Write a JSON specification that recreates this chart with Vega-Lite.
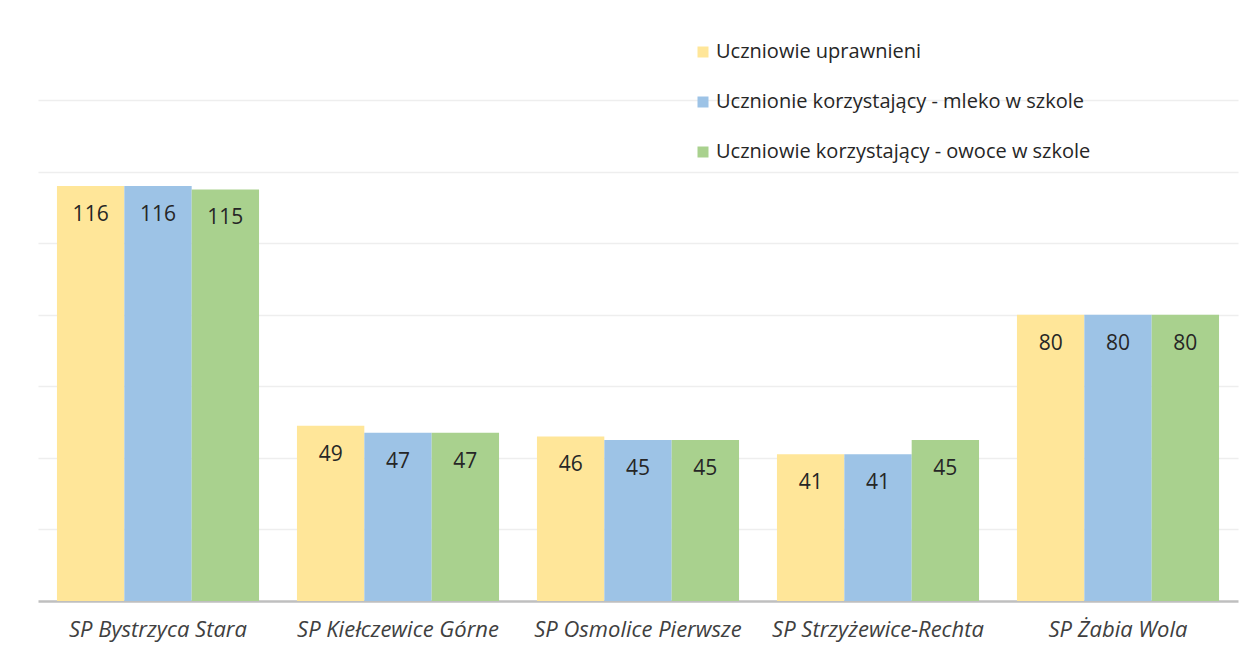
{
  "$schema": "https://vega.github.io/schema/vega-lite/v6.json",
  "autosize": {"type": "none"},
  "width": 1200,
  "height": 501,
  "padding": {"left": 38, "top": 100, "right": 20, "bottom": 53},
  "background": "white",
  "config": {
    "view": {"stroke": null},
    "font": "Open Sans"
  },
  "data": {
    "values": [
      {"szkola": "SP Bystrzyca Stara", "seria": "Uczniowie uprawnieni", "wartosc": 116},
      {"szkola": "SP Bystrzyca Stara", "seria": "Ucznionie korzystający - mleko w szkole", "wartosc": 116},
      {"szkola": "SP Bystrzyca Stara", "seria": "Uczniowie korzystający - owoce w szkole", "wartosc": 115},
      {"szkola": "SP Kiełczewice Górne", "seria": "Uczniowie uprawnieni", "wartosc": 49},
      {"szkola": "SP Kiełczewice Górne", "seria": "Ucznionie korzystający - mleko w szkole", "wartosc": 47},
      {"szkola": "SP Kiełczewice Górne", "seria": "Uczniowie korzystający - owoce w szkole", "wartosc": 47},
      {"szkola": "SP Osmolice Pierwsze", "seria": "Uczniowie uprawnieni", "wartosc": 46},
      {"szkola": "SP Osmolice Pierwsze", "seria": "Ucznionie korzystający - mleko w szkole", "wartosc": 45},
      {"szkola": "SP Osmolice Pierwsze", "seria": "Uczniowie korzystający - owoce w szkole", "wartosc": 45},
      {"szkola": "SP Strzyżewice-Rechta", "seria": "Uczniowie uprawnieni", "wartosc": 41},
      {"szkola": "SP Strzyżewice-Rechta", "seria": "Ucznionie korzystający - mleko w szkole", "wartosc": 41},
      {"szkola": "SP Strzyżewice-Rechta", "seria": "Uczniowie korzystający - owoce w szkole", "wartosc": 45},
      {"szkola": "SP Żabia Wola", "seria": "Uczniowie uprawnieni", "wartosc": 80},
      {"szkola": "SP Żabia Wola", "seria": "Ucznionie korzystający - mleko w szkole", "wartosc": 80},
      {"szkola": "SP Żabia Wola", "seria": "Uczniowie korzystający - owoce w szkole", "wartosc": 80}
    ]
  },
  "encoding": {
    "x": {
      "field": "szkola", "type": "nominal", "sort": null,
      "scale": {"paddingInner": 0.158, "paddingOuter": 0.079},
      "axis": {
        "title": null, "labelAngle": 0, "ticks": false,
        "domainColor": "#bfbfbf", "domainWidth": 2.5,
        "labelFontSize": 22, "labelFontStyle": "italic", "labelColor": "#404040",
        "labelPadding": 18, "labelFont": "Open Sans", "labelLimit": 400
      }
    },
    "xOffset": {
      "field": "seria", "type": "nominal", "sort": null,
      "scale": {"paddingInner": 0, "paddingOuter": 0}
    },
    "y": {
      "field": "wartosc", "type": "quantitative",
      "scale": {"domain": [0, 140], "nice": false},
      "axis": {
        "title": null, "labels": false, "ticks": false, "domain": false,
        "values": [20, 40, 60, 80, 100, 120, 140],
        "gridColor": "#eeeeee", "gridWidth": 1.5
      }
    }
  },
  "layer": [
    {
      "mark": {"type": "bar"},
      "encoding": {
        "color": {
          "field": "seria", "type": "nominal", "sort": null,
          "scale": {
            "domain": ["Uczniowie uprawnieni", "Ucznionie korzystający - mleko w szkole", "Uczniowie korzystający - owoce w szkole"],
            "range": ["#FFE699", "#9DC3E6", "#A9D18E"]
          },
          "legend": {
            "title": null, "orient": "none", "legendX": 655, "legendY": -58,
            "symbolType": "square", "symbolSize": 121, "symbolStrokeWidth": 0,
            "labelFontSize": 20, "labelColor": "#262626", "labelFont": "Open Sans",
            "rowPadding": 30, "labelOffset": 3, "labelLimit": 600
          }
        }
      }
    },
    {
      "mark": {"type": "text", "baseline": "middle", "dy": 29, "fontSize": 21, "color": "#262626", "font": "Open Sans"},
      "encoding": {
        "text": {"field": "wartosc", "type": "quantitative"}
      }
    }
  ]
}
